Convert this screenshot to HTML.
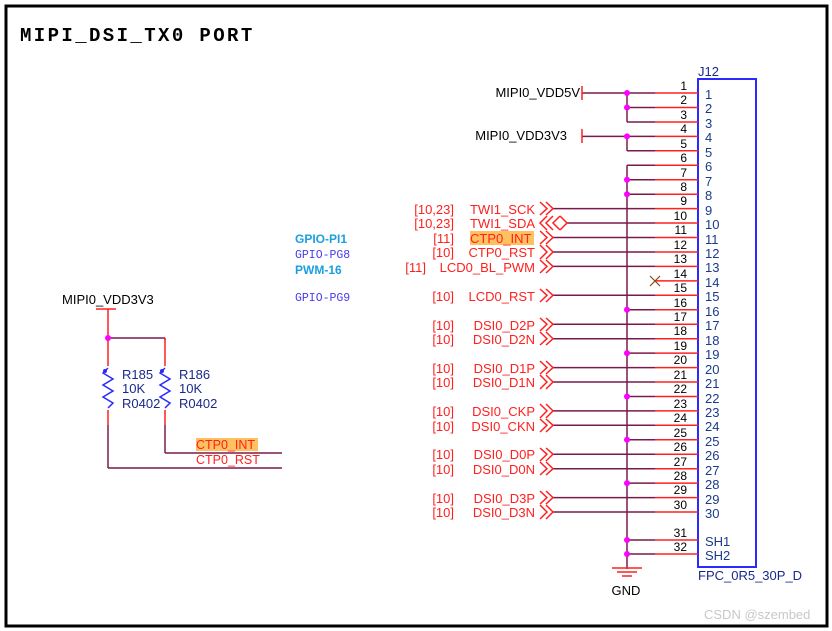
<!DOCTYPE html>
<html><head><meta charset="utf-8"><style>
html,body{margin:0;padding:0;background:#fff;}
svg{display:block;}
text{font-family:"Liberation Sans",sans-serif;}
</style></head><body>
<svg width="832" height="631" viewBox="0 0 832 631" xmlns="http://www.w3.org/2000/svg">
<rect x="0" y="0" width="832" height="631" fill="#fff"/>
<rect x="6" y="6" width="821" height="620" fill="none" stroke="#000" stroke-width="3"/>
<text x="20" y="41" font-weight="bold" font-size="19" letter-spacing="2.4" fill="#000" style="font-family:'Liberation Mono',monospace">MIPI_DSI_TX0 PORT</text>

<!-- connector box -->
<rect x="698" y="79" width="58" height="488" fill="none" stroke="#2a2aff" stroke-width="2"/>
<text x="698" y="76" font-size="13" fill="#1a2a8a">J12</text>
<text x="698" y="580" font-size="13" fill="#1a2a8a">FPC_0R5_30P_D</text>

<g stroke-width="1.5" fill="none">
<g stroke="#7a1a4a">
<line x1="582" y1="93" x2="655" y2="93"/>
<line x1="627" y1="107.5" x2="655" y2="107.5"/>
<line x1="627" y1="122" x2="655" y2="122"/>
<line x1="627" y1="93" x2="627" y2="122"/>
<line x1="582" y1="136.4" x2="655" y2="136.4"/>
<line x1="627" y1="150.8" x2="655" y2="150.8"/>
<line x1="627" y1="136.4" x2="627" y2="150.8"/>
<line x1="627" y1="165.3" x2="655" y2="165.3"/>
<line x1="627" y1="179.7" x2="655" y2="179.7"/>
<line x1="627" y1="194.2" x2="655" y2="194.2"/>
<line x1="627" y1="309.8" x2="655" y2="309.8"/>
<line x1="627" y1="353.1" x2="655" y2="353.1"/>
<line x1="627" y1="396.5" x2="655" y2="396.5"/>
<line x1="627" y1="439.8" x2="655" y2="439.8"/>
<line x1="627" y1="483.1" x2="655" y2="483.1"/>
<line x1="627" y1="540" x2="655" y2="540"/>
<line x1="627" y1="554" x2="655" y2="554"/>
<line x1="627" y1="165.3" x2="627" y2="569"/>
<line x1="553" y1="208.6" x2="655" y2="208.6"/>
<line x1="567" y1="223" x2="655" y2="223"/>
<line x1="553" y1="237.5" x2="655" y2="237.5"/>
<line x1="553" y1="252" x2="655" y2="252"/>
<line x1="553" y1="266.4" x2="655" y2="266.4"/>
<line x1="553" y1="295.3" x2="655" y2="295.3"/>
<line x1="553" y1="324.2" x2="655" y2="324.2"/>
<line x1="553" y1="338.7" x2="655" y2="338.7"/>
<line x1="553" y1="367.6" x2="655" y2="367.6"/>
<line x1="553" y1="382" x2="655" y2="382"/>
<line x1="553" y1="410.9" x2="655" y2="410.9"/>
<line x1="553" y1="425.3" x2="655" y2="425.3"/>
<line x1="553" y1="454.2" x2="655" y2="454.2"/>
<line x1="553" y1="468.7" x2="655" y2="468.7"/>
<line x1="553" y1="497.6" x2="655" y2="497.6"/>
<line x1="553" y1="512" x2="655" y2="512"/>
<line x1="108" y1="338" x2="165" y2="338"/>
<line x1="108" y1="425" x2="108" y2="468"/>
<line x1="165" y1="338" x2="165" y2="340"/>
<line x1="165" y1="425" x2="165" y2="453"/>
<line x1="165" y1="453" x2="282" y2="453"/>
<line x1="108" y1="468" x2="282" y2="468"/>
</g>
<g stroke="#ff2020">
<line x1="655" y1="93" x2="698" y2="93"/><line x1="655" y1="107.5" x2="698" y2="107.5"/>
<line x1="655" y1="122" x2="698" y2="122"/><line x1="655" y1="136.4" x2="698" y2="136.4"/>
<line x1="655" y1="150.8" x2="698" y2="150.8"/><line x1="655" y1="165.3" x2="698" y2="165.3"/>
<line x1="655" y1="179.7" x2="698" y2="179.7"/><line x1="655" y1="194.2" x2="698" y2="194.2"/>
<line x1="655" y1="208.6" x2="698" y2="208.6"/><line x1="655" y1="223" x2="698" y2="223"/>
<line x1="655" y1="237.5" x2="698" y2="237.5"/><line x1="655" y1="252" x2="698" y2="252"/>
<line x1="655" y1="266.4" x2="698" y2="266.4"/><line x1="655" y1="280.9" x2="698" y2="280.9"/>
<line x1="655" y1="295.3" x2="698" y2="295.3"/><line x1="655" y1="309.8" x2="698" y2="309.8"/>
<line x1="655" y1="324.2" x2="698" y2="324.2"/><line x1="655" y1="338.7" x2="698" y2="338.7"/>
<line x1="655" y1="353.1" x2="698" y2="353.1"/><line x1="655" y1="367.6" x2="698" y2="367.6"/>
<line x1="655" y1="382" x2="698" y2="382"/><line x1="655" y1="396.5" x2="698" y2="396.5"/>
<line x1="655" y1="410.9" x2="698" y2="410.9"/><line x1="655" y1="425.3" x2="698" y2="425.3"/>
<line x1="655" y1="439.8" x2="698" y2="439.8"/><line x1="655" y1="454.2" x2="698" y2="454.2"/>
<line x1="655" y1="468.7" x2="698" y2="468.7"/><line x1="655" y1="483.1" x2="698" y2="483.1"/>
<line x1="655" y1="497.6" x2="698" y2="497.6"/><line x1="655" y1="512" x2="698" y2="512"/>
<line x1="655" y1="540" x2="698" y2="540"/><line x1="655" y1="554" x2="698" y2="554"/>
<line x1="582" y1="86" x2="582" y2="100"/><line x1="582" y1="129" x2="582" y2="143"/>
<line x1="96" y1="309" x2="116" y2="309"/><line x1="108" y1="309" x2="108" y2="336"/>
<line x1="612" y1="568" x2="642" y2="568"/><line x1="617" y1="572" x2="637" y2="572"/>
<line x1="622" y1="576" x2="632" y2="576"/>
<polyline points="540,202 547,208.6 540,215"/><polyline points="546,202 553,208.6 546,215"/>
<polyline points="547,216 540,223 547,230"/><polyline points="553,216 546,223 553,230"/>
<polyline points="560,216 553,223 560,230"/><polyline points="560,216 567,223 560,230"/>
<polyline points="540,231 547,237.5 540,244"/><polyline points="546,231 553,237.5 546,244"/>
<polyline points="540,245 547,252 540,259"/><polyline points="546,245 553,252 546,259"/>
<polyline points="540,260 547,266.4 540,273"/><polyline points="546,260 553,266.4 546,273"/>
<polyline points="540,289 547,295.3 540,302"/><polyline points="546,289 553,295.3 546,302"/>
<polyline points="540,318 547,324.2 540,331"/><polyline points="546,318 553,324.2 546,331"/>
<polyline points="540,332 547,338.7 540,345"/><polyline points="546,332 553,338.7 546,345"/>
<polyline points="540,361 547,367.6 540,374"/><polyline points="546,361 553,367.6 546,374"/>
<polyline points="540,375 547,382 540,389"/><polyline points="546,375 553,382 546,389"/>
<polyline points="540,404 547,410.9 540,418"/><polyline points="546,404 553,410.9 546,418"/>
<polyline points="540,419 547,425.3 540,432"/><polyline points="546,419 553,425.3 546,432"/>
<polyline points="540,448 547,454.2 540,461"/><polyline points="546,448 553,454.2 546,461"/>
<polyline points="540,462 547,468.7 540,475"/><polyline points="546,462 553,468.7 546,475"/>
<polyline points="540,491 547,497.6 540,504"/><polyline points="546,491 553,497.6 546,504"/>
<polyline points="540,505 547,512 540,519"/><polyline points="546,505 553,512 546,519"/>
<line x1="108" y1="340" x2="108" y2="366"/><line x1="165" y1="340" x2="165" y2="366"/>
<line x1="108" y1="410" x2="108" y2="425"/><line x1="165" y1="410" x2="165" y2="425"/>
<line x1="165" y1="338" x2="165" y2="340"/>
</g>
</g>
<g stroke="#8a4a1a" stroke-width="1.2"><line x1="650" y1="276" x2="660" y2="286"/><line x1="660" y1="276" x2="650" y2="286"/></g>
<g stroke="#2a2aff" stroke-width="1.5" fill="none">
<polyline points="108,368 103,373 113,379 103,385 113,391 103,397 113,403 108,408"/>
<polyline points="165,368 160,373 170,379 160,385 170,391 160,397 170,403 165,408"/>
</g>
<circle cx="105" cy="371" r="2" fill="#2a2aff"/><circle cx="162" cy="371" r="2" fill="#2a2aff"/>

<g fill="#ff00ff">
<circle cx="627" cy="93" r="3"/><circle cx="627" cy="107.5" r="3"/><circle cx="627" cy="136.4" r="3"/>
<circle cx="627" cy="179.7" r="3"/><circle cx="627" cy="194.2" r="3"/><circle cx="627" cy="309.8" r="3"/>
<circle cx="627" cy="353.1" r="3"/><circle cx="627" cy="396.5" r="3"/><circle cx="627" cy="439.8" r="3"/>
<circle cx="627" cy="483.1" r="3"/><circle cx="627" cy="540" r="3"/><circle cx="627" cy="554" r="3"/>
<circle cx="108" cy="338" r="3"/>
</g>

<g font-size="12" fill="#000" text-anchor="end">
<text x="687" y="90">1</text><text x="687" y="104">2</text><text x="687" y="119">3</text><text x="687" y="133">4</text>
<text x="687" y="148">5</text><text x="687" y="162">6</text><text x="687" y="177">7</text><text x="687" y="191">8</text>
<text x="687" y="205">9</text><text x="687" y="220">10</text><text x="687" y="234">11</text><text x="687" y="249">12</text>
<text x="687" y="263">13</text><text x="687" y="278">14</text><text x="687" y="292">15</text><text x="687" y="307">16</text>
<text x="687" y="321">17</text><text x="687" y="335">18</text><text x="687" y="350">19</text><text x="687" y="364">20</text>
<text x="687" y="379">21</text><text x="687" y="393">22</text><text x="687" y="408">23</text><text x="687" y="422">24</text>
<text x="687" y="437">25</text><text x="687" y="451">26</text><text x="687" y="466">27</text><text x="687" y="480">28</text>
<text x="687" y="494">29</text><text x="687" y="509">30</text><text x="687" y="537">31</text><text x="687" y="551">32</text>
</g>
<g font-size="13" fill="#1a3a8a">
<text x="705" y="99">1</text><text x="705" y="113">2</text><text x="705" y="128">3</text><text x="705" y="142">4</text>
<text x="705" y="157">5</text><text x="705" y="171">6</text><text x="705" y="186">7</text><text x="705" y="200">8</text>
<text x="705" y="215">9</text><text x="705" y="229">10</text><text x="705" y="244">11</text><text x="705" y="258">12</text>
<text x="705" y="272">13</text><text x="705" y="287">14</text><text x="705" y="301">15</text><text x="705" y="316">16</text>
<text x="705" y="330">17</text><text x="705" y="345">18</text><text x="705" y="359">19</text><text x="705" y="374">20</text>
<text x="705" y="388">21</text><text x="705" y="403">22</text><text x="705" y="417">23</text><text x="705" y="431">24</text>
<text x="705" y="446">25</text><text x="705" y="460">26</text><text x="705" y="475">27</text><text x="705" y="489">28</text>
<text x="705" y="504">29</text><text x="705" y="518">30</text><text x="705" y="546">SH1</text><text x="705" y="560">SH2</text>
</g>

<g font-size="13" fill="#000">
<text x="580" y="97" text-anchor="end">MIPI0_VDD5V</text>
<text x="567" y="140" text-anchor="end">MIPI0_VDD3V3</text>
<text x="62" y="304">MIPI0_VDD3V3</text>
<text x="626" y="595" text-anchor="middle">GND</text>
</g>

<rect x="470" y="231" width="64" height="14" fill="#ffc060"/>
<g font-size="13" fill="#ff2020">
<text x="454" y="214" text-anchor="end">[10,23]</text><text x="535" y="214" text-anchor="end">TWI1_SCK</text>
<text x="454" y="228" text-anchor="end">[10,23]</text><text x="535" y="228" text-anchor="end">TWI1_SDA</text>
<text x="454" y="243" text-anchor="end">[11]</text><text x="470" y="243">CTP0_INT</text>
<text x="454" y="257" text-anchor="end">[10]</text><text x="535" y="257" text-anchor="end">CTP0_RST</text>
<text x="426" y="272" text-anchor="end">[11]</text><text x="535" y="272" text-anchor="end">LCD0_BL_PWM</text>
<text x="454" y="301" text-anchor="end">[10]</text><text x="535" y="301" text-anchor="end">LCD0_RST</text>
<text x="454" y="330" text-anchor="end">[10]</text><text x="535" y="330" text-anchor="end">DSI0_D2P</text>
<text x="454" y="344" text-anchor="end">[10]</text><text x="535" y="344" text-anchor="end">DSI0_D2N</text>
<text x="454" y="373" text-anchor="end">[10]</text><text x="535" y="373" text-anchor="end">DSI0_D1P</text>
<text x="454" y="387" text-anchor="end">[10]</text><text x="535" y="387" text-anchor="end">DSI0_D1N</text>
<text x="454" y="416" text-anchor="end">[10]</text><text x="535" y="416" text-anchor="end">DSI0_CKP</text>
<text x="454" y="431" text-anchor="end">[10]</text><text x="535" y="431" text-anchor="end">DSI0_CKN</text>
<text x="454" y="459" text-anchor="end">[10]</text><text x="535" y="459" text-anchor="end">DSI0_D0P</text>
<text x="454" y="474" text-anchor="end">[10]</text><text x="535" y="474" text-anchor="end">DSI0_D0N</text>
<text x="454" y="503" text-anchor="end">[10]</text><text x="535" y="503" text-anchor="end">DSI0_D3P</text>
<text x="454" y="517" text-anchor="end">[10]</text><text x="535" y="517" text-anchor="end">DSI0_D3N</text>
</g>
<rect x="196" y="438" width="62" height="13" fill="#ffc060"/>
<g font-size="12.5" fill="#ff2020">
<text x="196" y="449">CTP0_INT</text>
<text x="196" y="464">CTP0_RST</text>
</g>

<g font-size="13" fill="#1a2a8a">
<text x="122" y="379">R185</text><text x="122" y="393">10K</text><text x="122" y="408">R0402</text>
<text x="179" y="379">R186</text><text x="179" y="393">10K</text><text x="179" y="408">R0402</text>
</g>

<text x="295" y="243" font-size="12" font-weight="bold" fill="#1a9fdf">GPIO-PI1</text>
<text x="295" y="258" font-size="11.5" fill="#4a3aee" style="font-family:'Liberation Mono',monospace">GPIO-PG8</text>
<text x="295" y="274" font-size="12" font-weight="bold" fill="#1a9fdf">PWM-16</text>
<text x="295" y="301" font-size="11.5" fill="#4a3aee" style="font-family:'Liberation Mono',monospace">GPIO-PG9</text>

<text x="704" y="619" font-size="13" fill="#c8c8c8">CSDN @szembed</text>
</svg>
</body></html>
